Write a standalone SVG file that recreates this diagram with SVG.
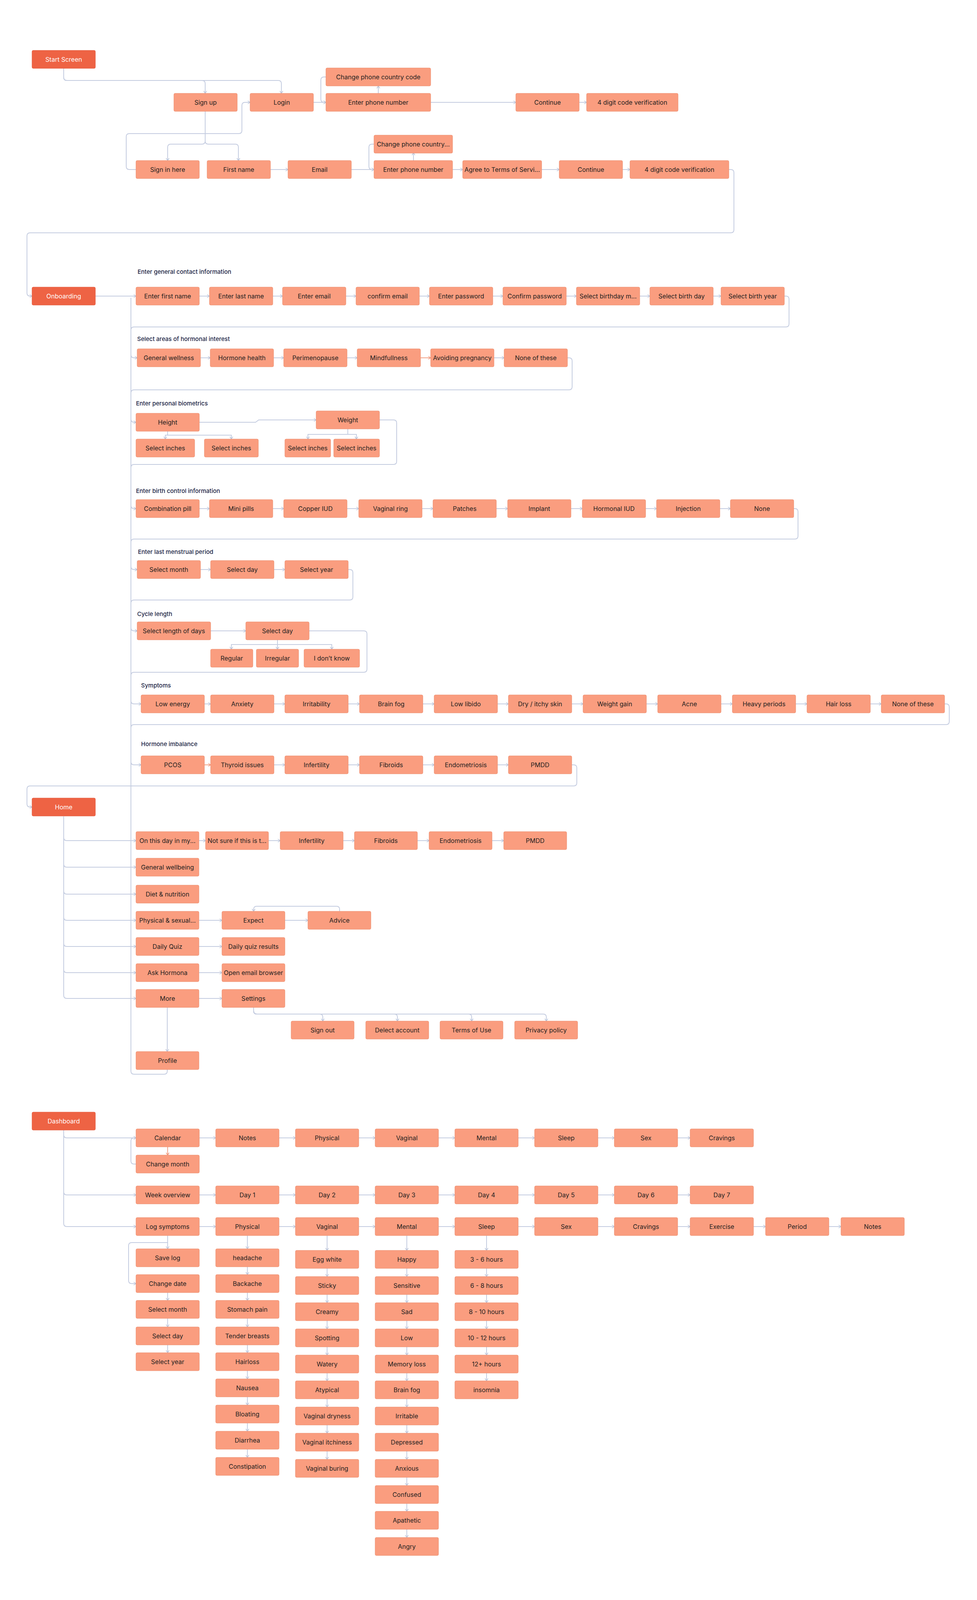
<svg xmlns="http://www.w3.org/2000/svg" width="2500" height="4111" viewBox="0 0 2500 4111">
<defs>
<style>
.n rect{fill:#FA9D7F;stroke:#EC8C6D;stroke-width:1}
.h rect{fill:#EE6344;stroke:#E4583A;stroke-width:1}
.n text,.h text{font-family:Inter,"Liberation Sans",sans-serif;font-size:16px;text-anchor:middle;dominant-baseline:central}
.n text{fill:#1E1E1E}
.h text{fill:#FFFFFF}
.lb{font-family:Inter,"Liberation Sans",sans-serif;font-size:15px;fill:#1B2444;font-weight:500;dominant-baseline:central}
#connectors path{fill:none;stroke:#C4CCE0;stroke-width:2;marker-end:url(#a)}
#connectors path.nm{marker-end:none}
#connectors path.s{stroke:#F2A186;marker-end:url(#as)}
</style>
<marker id="a" viewBox="0 0 12 12" refX="11" refY="6" markerWidth="12" markerHeight="12" markerUnits="userSpaceOnUse" orient="auto"><path d="M5,2 L11,6 L5,10" fill="none" stroke="#B8C2D8" stroke-width="1.5"/></marker>
<marker id="as" viewBox="0 0 12 12" refX="11" refY="6" markerWidth="12" markerHeight="12" markerUnits="userSpaceOnUse" orient="auto"><path d="M5,2 L11,6 L5,10" fill="none" stroke="#EE9275" stroke-width="1.5"/></marker>
</defs>
<rect width="2500" height="4111" fill="#FFFFFF"/>

<g id="connectors">
<!-- start section -->
<path d="M163,175 V198 Q163,206 171,206 H517 Q525,206 525,214 V239"/>
<path d="M163,175 V198 Q163,206 171,206 H712 Q720,206 720,214 V239"/>
<path d="M801,262 H834"/>
<path d="M968,239 V220"/>
<path d="M834,197 H829 Q821,197 821,205 V254 Q821,262 829,262 H834"/>
<path d="M1102,262 H1320"/>
<path d="M1482,262 H1501"/>
<path d="M525,284 V361 Q525,369 517,369 H437 Q429,369 429,377 V411"/>
<path d="M525,284 V361 Q525,369 533,369 H602 Q610,369 610,377 V411"/>
<path d="M348,434 H331 Q323,434 323,426 V350 Q323,342 331,342 H611 Q619,342 619,334 V270 Q619,262 627,262 H640"/>
<path d="M691,434 H737"/>
<path d="M898,434 H957"/>
<path d="M1058,411 V391"/>
<path d="M957,369 H952 Q944,369 944,377 V426 Q944,434 952,434 H957"/>
<path d="M1158,434 H1184"/>
<path d="M1386,434 H1431"/>
<path d="M1593,434 H1612"/>
<path d="M1865,434 H1870 Q1878,434 1878,442 V588 Q1878,596 1870,596 H77 Q69,596 69,604 V750 Q69,758 77,758 H82"/>
<!-- onboarding -->
<path d="M244,758 H348"/>
<path class="nm" d="M428,2738 V2742 Q428,2750 420,2750 H343 Q335,2750 335,2742 V762"/>
<path d="M510,758 H536"/>
<path d="M698,758 H723"/>
<path d="M885,758 H911"/>
<path d="M1073,758 H1099"/>
<path d="M1261,758 H1287"/>
<path d="M1449,758 H1475"/>
<path d="M1637,758 H1663"/>
<path d="M1825,758 H1845"/>
<path d="M2007,758 H2011 Q2019,758 2019,766 V829 Q2019,837 2011,837 H343 Q335,837 335,845 V908 Q335,916 343,916 H351"/>
<path d="M513,916 H538"/>
<path d="M700,916 H726"/>
<path d="M888,916 H914"/>
<path class="s" d="M1076,916 H1102"/>
<path d="M1264,916 H1290"/>
<path d="M1452,916 H1456 Q1464,916 1464,924 V990 Q1464,998 1456,998 H343 Q335,998 335,1006 V1073 Q335,1081 343,1081 H348"/>
<path d="M510,1081 H654 L662,1075 H809"/>
<path d="M429,1104 V1114 H423 V1124"/>
<path d="M429,1114 H592 V1124"/>
<path d="M890,1098 V1112 H788 V1124"/>
<path d="M890,1112 H912 V1124"/>
<path d="M971,1075 H1007 Q1015,1075 1015,1083 V1181 Q1015,1189 1007,1189 H343 Q335,1189 335,1197 V1294 Q335,1302 343,1302 H348"/>
<path d="M510,1302 H536"/>
<path d="M698,1302 H726"/>
<path d="M888,1302 H918"/>
<path d="M1080,1302 H1108"/>
<path d="M1270,1302 H1299"/>
<path d="M1461,1302 H1490"/>
<path d="M1652,1302 H1680"/>
<path d="M1842,1302 H1869"/>
<path d="M2031,1302 H2034 Q2042,1302 2042,1310 V1372 Q2042,1380 2034,1380 H343 Q335,1380 335,1388 V1450 Q335,1458 343,1458 H351"/>
<path d="M513,1458 H539"/>
<path d="M701,1458 H729"/>
<path d="M891,1458 H895 Q903,1458 903,1466 V1528 Q903,1536 895,1536 H343 Q335,1536 335,1544 V1607 Q335,1615 343,1615 H351"/>
<path d="M539,1615 H629"/>
<path d="M710,1638 V1650 H592 V1662"/>
<path d="M710,1638 V1662"/>
<path d="M710,1650 H849 V1662"/>
<path d="M791,1615 H931 Q939,1615 939,1623 V1713 Q939,1721 931,1721 H343 Q335,1721 335,1729 V1794 Q335,1802 343,1802 H361"/>
<path d="M523,1802 H539"/>
<path d="M701,1802 H729"/>
<path d="M891,1802 H920"/>
<path d="M1082,1802 H1111"/>
<path d="M1273,1802 H1301"/>
<path d="M1463,1802 H1492"/>
<path d="M1654,1802 H1683"/>
<path d="M1845,1802 H1874"/>
<path d="M2036,1802 H2065"/>
<path d="M2227,1802 H2255"/>
<path d="M2417,1802 H2421 Q2429,1802 2429,1810 V1847 Q2429,1855 2421,1855 H343 Q335,1855 335,1863 V1950 Q335,1958 343,1958 H361"/>
<path class="s" d="M523,1958 H539"/>
<path d="M701,1958 H729"/>
<path d="M891,1958 H920"/>
<path d="M1082,1958 H1111"/>
<path d="M1273,1958 H1301"/>
<path d="M1463,1958 H1468 Q1476,1958 1476,1966 V2004 Q1476,2012 1468,2012 H77 Q69,2012 69,2020 V2058 Q69,2066 77,2066 H82"/>
<!-- home -->
<path d="M163,2090 V2144 Q163,2152 171,2152 H348"/>
<path d="M163,2090 V2212 Q163,2220 171,2220 H348"/>
<path d="M163,2090 V2281 Q163,2289 171,2289 H348"/>
<path d="M163,2090 V2348 Q163,2356 171,2356 H348"/>
<path d="M163,2090 V2415 Q163,2423 171,2423 H348"/>
<path d="M163,2090 V2482 Q163,2490 171,2490 H348"/>
<path d="M163,2090 V2548 Q163,2556 171,2556 H348"/>
<path d="M509,2152 H526"/>
<path d="M687,2152 H717"/>
<path d="M878,2152 H907"/>
<path d="M1068,2152 H1098"/>
<path d="M1259,2152 H1289"/>
<path d="M509,2356 H568"/>
<path d="M729,2356 H788"/>
<path d="M869,2333 V2328 Q869,2320 861,2320 H657 Q649,2320 649,2328 V2333"/>
<path d="M509,2423 H568"/>
<path d="M509,2490 H568"/>
<path d="M509,2556 H568"/>
<path d="M649,2579 V2588 Q649,2596 657,2596 H818 Q826,2596 826,2604 V2614"/>
<path d="M649,2579 V2588 Q649,2596 657,2596 H1009 Q1017,2596 1017,2604 V2614"/>
<path d="M649,2579 V2588 Q649,2596 657,2596 H1199 Q1207,2596 1207,2604 V2614"/>
<path d="M649,2579 V2588 Q649,2596 657,2596 H1390 Q1398,2596 1398,2604 V2614"/>
<path d="M428,2579 V2692"/>
<!-- dashboard -->
<path d="M163,2892 V2905 Q163,2913 171,2913 H348"/>
<path d="M163,2892 V3051 Q163,3059 171,3059 H348"/>
<path d="M163,2892 V3132 Q163,3140 171,3140 H348"/>
<path class="s" d="M429,2936 V2957"/>
<path d="M348,2980 H343 Q335,2980 335,2972 V2921 Q335,2913 343,2913 H348"/>
<path d="M510,2913 H552"/>
<path d="M714,2913 H756"/>
<path d="M918,2913 H960"/>
<path d="M1122,2913 H1164"/>
<path d="M1326,2913 H1368"/>
<path d="M1530,2913 H1572"/>
<path d="M1734,2913 H1766"/>
<path d="M510,3059 H552"/>
<path d="M714,3059 H756"/>
<path d="M918,3059 H960"/>
<path d="M1122,3059 H1164"/>
<path d="M1326,3059 H1368"/>
<path d="M1530,3059 H1572"/>
<path d="M1734,3059 H1766"/>
<path d="M510,3140 H552"/>
<path d="M714,3140 H756"/>
<path d="M918,3140 H960"/>
<path d="M1122,3140 H1164"/>
<path d="M1326,3140 H1368"/>
<path d="M1530,3140 H1572"/>
<path d="M1734,3140 H1766"/>
<path d="M1928,3140 H1959"/>
<path d="M2121,3140 H2152"/>
<path d="M429,3163 V3197"/>
<path d="M429,3181 H337 Q329,3181 329,3189 V3278 Q329,3286 337,3286 H348"/>
<path d="M429,3309 V3329"/>
<path d="M429,3375 V3397"/>
<path d="M429,3443 V3463"/>
<path d="M633,3163 V3197"/>
<path d="M633,3243 V3263"/>
<path d="M633,3309 V3329"/>
<path d="M633,3375 V3397"/>
<path d="M633,3443 V3463"/>
<path d="M633,3509 V3530"/>
<path d="M633,3576 V3597"/>
<path d="M633,3643 V3664"/>
<path d="M633,3710 V3731"/>
<path d="M837,3163 V3201"/>
<path d="M837,3247 V3268"/>
<path d="M837,3314 V3335"/>
<path d="M837,3381 V3402"/>
<path d="M837,3448 V3469"/>
<path d="M837,3515 V3535"/>
<path d="M837,3581 V3602"/>
<path d="M837,3648 V3669"/>
<path d="M837,3715 V3736"/>
<path d="M1041,3163 V3201"/>
<path d="M1041,3247 V3268"/>
<path d="M1041,3314 V3335"/>
<path d="M1041,3381 V3402"/>
<path d="M1041,3448 V3469"/>
<path d="M1041,3515 V3535"/>
<path d="M1041,3581 V3602"/>
<path d="M1041,3648 V3669"/>
<path d="M1041,3715 V3736"/>
<path d="M1041,3782 V3803"/>
<path d="M1041,3849 V3869"/>
<path d="M1041,3915 V3936"/>
<path d="M1245,3163 V3201"/>
<path d="M1245,3247 V3268"/>
<path d="M1245,3314 V3335"/>
<path d="M1245,3381 V3402"/>
<path d="M1245,3448 V3469"/>
<path d="M1245,3515 V3535"/>
</g>

<g id="labels">
<text class="lb" x="352" y="695">Enter general contact information</text>
<text class="lb" x="351" y="867">Select areas of hormonal interest</text>
<text class="lb" x="348" y="1032">Enter personal biometrics</text>
<text class="lb" x="348" y="1256">Enter birth control information</text>
<text class="lb" x="353" y="1412">Enter last menstrual period</text>
<text class="lb" x="351" y="1571">Cycle length</text>
<text class="lb" x="361" y="1754">Symptoms</text>
<text class="lb" x="361" y="1904">Hormone imbalance</text>
</g>

<!-- Start section -->
<g id="start-screen" class="h"><rect x="82" y="129" width="162" height="46" rx="3"/><text x="163" y="152">Start Screen</text></g>
<g id="sign-up" class="n"><rect x="445" y="239" width="162" height="46" rx="3"/><text x="526" y="262">Sign up</text></g>
<g id="login" class="n"><rect x="640" y="239" width="162" height="46" rx="3"/><text x="721" y="262">Login</text></g>
<g id="change-code-1" class="n"><rect x="834" y="174" width="268" height="46" rx="3"/><text x="968" y="197">Change phone country code</text></g>
<g id="enter-phone-1" class="n"><rect x="834" y="239" width="268" height="46" rx="3"/><text x="968" y="262">Enter phone number</text></g>
<g id="continue-1" class="n"><rect x="1320" y="239" width="162" height="46" rx="3"/><text x="1401" y="262">Continue</text></g>
<g id="verify-1" class="n"><rect x="1501" y="239" width="234" height="46" rx="3"/><text x="1618" y="262">4 digit code verification</text></g>
<g id="sign-in-here" class="n"><rect x="348" y="411" width="162" height="46" rx="3"/><text x="429" y="434">Sign in here</text></g>
<g id="first-name" class="n"><rect x="530" y="411" width="162" height="46" rx="3"/><text x="611" y="434">First name</text></g>
<g id="email" class="n"><rect x="737" y="411" width="162" height="46" rx="3"/><text x="818" y="434">Email</text></g>
<g id="change-code-2" class="n"><rect x="957" y="346" width="201" height="46" rx="3"/><text x="1057.5" y="369">Change phone country...</text></g>
<g id="enter-phone-2" class="n"><rect x="957" y="411" width="201" height="46" rx="3"/><text x="1057.5" y="434">Enter phone number</text></g>
<g id="agree-terms" class="n"><rect x="1184" y="411" width="202" height="46" rx="3"/><text x="1285" y="434">Agree to Terms of Servi...</text></g>
<g id="continue-2" class="n"><rect x="1431" y="411" width="162" height="46" rx="3"/><text x="1512" y="434">Continue</text></g>
<g id="verify-2" class="n"><rect x="1612" y="411" width="253" height="46" rx="3"/><text x="1738.5" y="434">4 digit code verification</text></g>

<!-- Onboarding -->
<g id="onboarding" class="h"><rect x="82" y="735" width="162" height="46" rx="3"/><text x="163" y="758">Onboarding</text></g>
<g id="ob-first-name" class="n"><rect x="348" y="735" width="162" height="46" rx="3"/><text x="429" y="758">Enter first name</text></g>
<g id="ob-last-name" class="n"><rect x="536" y="735" width="162" height="46" rx="3"/><text x="617" y="758">Enter last name</text></g>
<g id="ob-email" class="n"><rect x="723" y="735" width="162" height="46" rx="3"/><text x="804" y="758">Enter email</text></g>
<g id="ob-confirm-email" class="n"><rect x="911" y="735" width="162" height="46" rx="3"/><text x="992" y="758">confirm email</text></g>
<g id="ob-password" class="n"><rect x="1099" y="735" width="162" height="46" rx="3"/><text x="1180" y="758">Enter password</text></g>
<g id="ob-confirm-password" class="n"><rect x="1287" y="735" width="162" height="46" rx="3"/><text x="1368" y="758">Confirm password</text></g>
<g id="ob-birth-month" class="n"><rect x="1475" y="735" width="162" height="46" rx="3"/><text x="1556" y="758">Select birthday m...</text></g>
<g id="ob-birth-day" class="n"><rect x="1663" y="735" width="162" height="46" rx="3"/><text x="1744" y="758">Select birth day</text></g>
<g id="ob-birth-year" class="n"><rect x="1845" y="735" width="162" height="46" rx="3"/><text x="1926" y="758">Select birth year</text></g>

<g id="hi-general" class="n"><rect x="351" y="893" width="162" height="46" rx="3"/><text x="432" y="916">General wellness</text></g>
<g id="hi-hormone" class="n"><rect x="538" y="893" width="162" height="46" rx="3"/><text x="619" y="916">Hormone health</text></g>
<g id="hi-peri" class="n"><rect x="726" y="893" width="162" height="46" rx="3"/><text x="807" y="916">Perimenopause</text></g>
<g id="hi-mind" class="n"><rect x="914" y="893" width="162" height="46" rx="3"/><text x="995" y="916">Mindfullness</text></g>
<g id="hi-avoid" class="n"><rect x="1102" y="893" width="162" height="46" rx="3"/><text x="1183" y="916">Avoiding pregnancy</text></g>
<g id="hi-none" class="n"><rect x="1290" y="893" width="162" height="46" rx="3"/><text x="1371" y="916">None of these</text></g>

<g id="bio-height" class="n"><rect x="348" y="1058" width="162" height="46" rx="3"/><text x="429" y="1081">Height</text></g>
<g id="bio-weight" class="n"><rect x="809" y="1052" width="162" height="46" rx="3"/><text x="890" y="1075">Weight</text></g>
<g id="bio-in-1" class="n"><rect x="348" y="1124" width="150" height="46" rx="3"/><text x="423" y="1147">Select inches</text></g>
<g id="bio-in-2" class="n"><rect x="523" y="1124" width="138" height="46" rx="3"/><text x="592" y="1147">Select inches</text></g>
<g id="bio-in-3" class="n"><rect x="729" y="1124" width="117" height="46" rx="3"/><text x="787.5" y="1147">Select inches</text></g>
<g id="bio-in-4" class="n"><rect x="854" y="1124" width="117" height="46" rx="3"/><text x="912.5" y="1147">Select inches</text></g>

<g id="bc-combo" class="n"><rect x="348" y="1279" width="162" height="46" rx="3"/><text x="429" y="1302">Combination pill</text></g>
<g id="bc-mini" class="n"><rect x="536" y="1279" width="162" height="46" rx="3"/><text x="617" y="1302">Mini pills</text></g>
<g id="bc-copper" class="n"><rect x="726" y="1279" width="162" height="46" rx="3"/><text x="807" y="1302">Copper IUD</text></g>
<g id="bc-ring" class="n"><rect x="918" y="1279" width="162" height="46" rx="3"/><text x="999" y="1302">Vaginal ring</text></g>
<g id="bc-patches" class="n"><rect x="1108" y="1279" width="162" height="46" rx="3"/><text x="1189" y="1302">Patches</text></g>
<g id="bc-implant" class="n"><rect x="1299" y="1279" width="162" height="46" rx="3"/><text x="1380" y="1302">Implant</text></g>
<g id="bc-hormonal" class="n"><rect x="1490" y="1279" width="162" height="46" rx="3"/><text x="1571" y="1302">Hormonal IUD</text></g>
<g id="bc-injection" class="n"><rect x="1680" y="1279" width="162" height="46" rx="3"/><text x="1761" y="1302">Injection</text></g>
<g id="bc-none" class="n"><rect x="1869" y="1279" width="162" height="46" rx="3"/><text x="1950" y="1302">None</text></g>

<g id="lmp-month" class="n"><rect x="351" y="1435" width="162" height="46" rx="3"/><text x="432" y="1458">Select month</text></g>
<g id="lmp-day" class="n"><rect x="539" y="1435" width="162" height="46" rx="3"/><text x="620" y="1458">Select day</text></g>
<g id="lmp-year" class="n"><rect x="729" y="1435" width="162" height="46" rx="3"/><text x="810" y="1458">Select year</text></g>

<g id="cl-length" class="n"><rect x="351" y="1592" width="188" height="46" rx="3"/><text x="445" y="1615">Select length of days</text></g>
<g id="cl-day" class="n"><rect x="629" y="1592" width="162" height="46" rx="3"/><text x="710" y="1615">Select day</text></g>
<g id="cl-regular" class="n"><rect x="539" y="1662" width="108" height="46" rx="3"/><text x="593" y="1685">Regular</text></g>
<g id="cl-irregular" class="n"><rect x="656" y="1662" width="108" height="46" rx="3"/><text x="710" y="1685">Irregular</text></g>
<g id="cl-dont-know" class="n"><rect x="778" y="1662" width="142" height="46" rx="3"/><text x="849" y="1685">I don’t know</text></g>

<g id="sy-low-energy" class="n"><rect x="361" y="1779" width="162" height="46" rx="3"/><text x="442" y="1802">Low energy</text></g>
<g id="sy-anxiety" class="n"><rect x="539" y="1779" width="162" height="46" rx="3"/><text x="620" y="1802">Anxiety</text></g>
<g id="sy-irritability" class="n"><rect x="729" y="1779" width="162" height="46" rx="3"/><text x="810" y="1802">Irritability</text></g>
<g id="sy-brain-fog" class="n"><rect x="920" y="1779" width="162" height="46" rx="3"/><text x="1001" y="1802">Brain fog</text></g>
<g id="sy-low-libido" class="n"><rect x="1111" y="1779" width="162" height="46" rx="3"/><text x="1192" y="1802">Low libido</text></g>
<g id="sy-dry-skin" class="n"><rect x="1301" y="1779" width="162" height="46" rx="3"/><text x="1382" y="1802">Dry / itchy skin</text></g>
<g id="sy-weight-gain" class="n"><rect x="1492" y="1779" width="162" height="46" rx="3"/><text x="1573" y="1802">Weight gain</text></g>
<g id="sy-acne" class="n"><rect x="1683" y="1779" width="162" height="46" rx="3"/><text x="1764" y="1802">Acne</text></g>
<g id="sy-heavy" class="n"><rect x="1874" y="1779" width="162" height="46" rx="3"/><text x="1955" y="1802">Heavy periods</text></g>
<g id="sy-hair-loss" class="n"><rect x="2065" y="1779" width="162" height="46" rx="3"/><text x="2146" y="1802">Hair loss</text></g>
<g id="sy-none" class="n"><rect x="2255" y="1779" width="162" height="46" rx="3"/><text x="2336" y="1802">None of these</text></g>

<g id="hm-pcos" class="n"><rect x="361" y="1935" width="162" height="46" rx="3"/><text x="442" y="1958">PCOS</text></g>
<g id="hm-thyroid" class="n"><rect x="539" y="1935" width="162" height="46" rx="3"/><text x="620" y="1958">Thyroid issues</text></g>
<g id="hm-infertility" class="n"><rect x="729" y="1935" width="162" height="46" rx="3"/><text x="810" y="1958">Infertility</text></g>
<g id="hm-fibroids" class="n"><rect x="920" y="1935" width="162" height="46" rx="3"/><text x="1001" y="1958">Fibroids</text></g>
<g id="hm-endo" class="n"><rect x="1111" y="1935" width="162" height="46" rx="3"/><text x="1192" y="1958">Endometriosis</text></g>
<g id="hm-pmdd" class="n"><rect x="1301" y="1935" width="162" height="46" rx="3"/><text x="1382" y="1958">PMDD</text></g>

<!-- Home -->
<g id="home" class="h"><rect x="82" y="2043" width="162" height="46" rx="3"/><text x="163" y="2066">Home</text></g>
<g id="h-on-this-day" class="n"><rect x="348" y="2129" width="161" height="46" rx="3"/><text x="428.5" y="2152">On this day in my...</text></g>
<g id="h-not-sure" class="n"><rect x="526" y="2129" width="161" height="46" rx="3"/><text x="606.5" y="2152">Not sure if this is t...</text></g>
<g id="h-infertility" class="n"><rect x="717" y="2129" width="161" height="46" rx="3"/><text x="797.5" y="2152">Infertility</text></g>
<g id="h-fibroids" class="n"><rect x="907" y="2129" width="161" height="46" rx="3"/><text x="987.5" y="2152">Fibroids</text></g>
<g id="h-endo" class="n"><rect x="1098" y="2129" width="161" height="46" rx="3"/><text x="1178.5" y="2152">Endometriosis</text></g>
<g id="h-pmdd" class="n"><rect x="1289" y="2129" width="161" height="46" rx="3"/><text x="1369.5" y="2152">PMDD</text></g>
<g id="h-wellbeing" class="n"><rect x="348" y="2197" width="161" height="46" rx="3"/><text x="428.5" y="2220">General wellbeing</text></g>
<g id="h-diet" class="n"><rect x="348" y="2266" width="161" height="46" rx="3"/><text x="428.5" y="2289">Diet &amp; nutrition</text></g>
<g id="h-physical" class="n"><rect x="348" y="2333" width="161" height="46" rx="3"/><text x="428.5" y="2356">Physical &amp; sexual...</text></g>
<g id="h-expect" class="n"><rect x="568" y="2333" width="161" height="46" rx="3"/><text x="648.5" y="2356">Expect</text></g>
<g id="h-advice" class="n"><rect x="788" y="2333" width="161" height="46" rx="3"/><text x="868.5" y="2356">Advice</text></g>
<g id="h-quiz" class="n"><rect x="348" y="2400" width="161" height="46" rx="3"/><text x="428.5" y="2423">Daily Quiz</text></g>
<g id="h-quiz-results" class="n"><rect x="568" y="2400" width="161" height="46" rx="3"/><text x="648.5" y="2423">Daily quiz results</text></g>
<g id="h-ask" class="n"><rect x="348" y="2467" width="161" height="46" rx="3"/><text x="428.5" y="2490">Ask Hormona</text></g>
<g id="h-email-browser" class="n"><rect x="568" y="2467" width="161" height="46" rx="3"/><text x="648.5" y="2490">Open email browser</text></g>
<g id="h-more" class="n"><rect x="348" y="2533" width="161" height="46" rx="3"/><text x="428.5" y="2556">More</text></g>
<g id="h-settings" class="n"><rect x="568" y="2533" width="161" height="46" rx="3"/><text x="648.5" y="2556">Settings</text></g>
<g id="h-sign-out" class="n"><rect x="745" y="2614" width="161" height="46" rx="3"/><text x="825.5" y="2637">Sign out</text></g>
<g id="h-delect" class="n"><rect x="936" y="2614" width="161" height="46" rx="3"/><text x="1016.5" y="2637">Delect account</text></g>
<g id="h-terms" class="n"><rect x="1126" y="2614" width="161" height="46" rx="3"/><text x="1206.5" y="2637">Terms of Use</text></g>
<g id="h-privacy" class="n"><rect x="1317" y="2614" width="161" height="46" rx="3"/><text x="1397.5" y="2637">Privacy policy</text></g>
<g id="h-profile" class="n"><rect x="348" y="2692" width="161" height="46" rx="3"/><text x="428.5" y="2715">Profile</text></g>

<!-- Dashboard -->
<g id="dashboard" class="h"><rect x="82" y="2847" width="162" height="46" rx="3"/><text x="163" y="2870">Dashboard</text></g>
<g id="d-calendar" class="n"><rect x="348" y="2890" width="162" height="46" rx="3"/><text x="429" y="2913">Calendar</text></g>
<g id="d-notes" class="n"><rect x="552" y="2890" width="162" height="46" rx="3"/><text x="633" y="2913">Notes</text></g>
<g id="d-physical" class="n"><rect x="756" y="2890" width="162" height="46" rx="3"/><text x="837" y="2913">Physical</text></g>
<g id="d-vaginal" class="n"><rect x="960" y="2890" width="162" height="46" rx="3"/><text x="1041" y="2913">Vaginal</text></g>
<g id="d-mental" class="n"><rect x="1164" y="2890" width="162" height="46" rx="3"/><text x="1245" y="2913">Mental</text></g>
<g id="d-sleep" class="n"><rect x="1368" y="2890" width="162" height="46" rx="3"/><text x="1449" y="2913">Sleep</text></g>
<g id="d-sex" class="n"><rect x="1572" y="2890" width="162" height="46" rx="3"/><text x="1653" y="2913">Sex</text></g>
<g id="d-cravings" class="n"><rect x="1766" y="2890" width="162" height="46" rx="3"/><text x="1847" y="2913">Cravings</text></g>
<g id="d-change-month" class="n"><rect x="348" y="2957" width="162" height="46" rx="3"/><text x="429" y="2980">Change month</text></g>

<g id="w-overview" class="n"><rect x="348" y="3036" width="162" height="46" rx="3"/><text x="429" y="3059">Week overview</text></g>
<g id="w-day1" class="n"><rect x="552" y="3036" width="162" height="46" rx="3"/><text x="633" y="3059">Day 1</text></g>
<g id="w-day2" class="n"><rect x="756" y="3036" width="162" height="46" rx="3"/><text x="837" y="3059">Day 2</text></g>
<g id="w-day3" class="n"><rect x="960" y="3036" width="162" height="46" rx="3"/><text x="1041" y="3059">Day 3</text></g>
<g id="w-day4" class="n"><rect x="1164" y="3036" width="162" height="46" rx="3"/><text x="1245" y="3059">Day 4</text></g>
<g id="w-day5" class="n"><rect x="1368" y="3036" width="162" height="46" rx="3"/><text x="1449" y="3059">Day 5</text></g>
<g id="w-day6" class="n"><rect x="1572" y="3036" width="162" height="46" rx="3"/><text x="1653" y="3059">Day 6</text></g>
<g id="w-day7" class="n"><rect x="1766" y="3036" width="162" height="46" rx="3"/><text x="1847" y="3059">Day 7</text></g>

<g id="l-log" class="n"><rect x="348" y="3117" width="162" height="46" rx="3"/><text x="429" y="3140">Log symptoms</text></g>
<g id="l-physical" class="n"><rect x="552" y="3117" width="162" height="46" rx="3"/><text x="633" y="3140">Physical</text></g>
<g id="l-vaginal" class="n"><rect x="756" y="3117" width="162" height="46" rx="3"/><text x="837" y="3140">Vaginal</text></g>
<g id="l-mental" class="n"><rect x="960" y="3117" width="162" height="46" rx="3"/><text x="1041" y="3140">Mental</text></g>
<g id="l-sleep" class="n"><rect x="1164" y="3117" width="162" height="46" rx="3"/><text x="1245" y="3140">Sleep</text></g>
<g id="l-sex" class="n"><rect x="1368" y="3117" width="162" height="46" rx="3"/><text x="1449" y="3140">Sex</text></g>
<g id="l-cravings" class="n"><rect x="1572" y="3117" width="162" height="46" rx="3"/><text x="1653" y="3140">Cravings</text></g>
<g id="l-exercise" class="n"><rect x="1766" y="3117" width="162" height="46" rx="3"/><text x="1847" y="3140">Exercise</text></g>
<g id="l-period" class="n"><rect x="1959" y="3117" width="162" height="46" rx="3"/><text x="2040" y="3140">Period</text></g>
<g id="l-notes" class="n"><rect x="2152" y="3117" width="162" height="46" rx="3"/><text x="2233" y="3140">Notes</text></g>

<g id="l-save" class="n"><rect x="348" y="3197" width="162" height="46" rx="3"/><text x="429" y="3220">Save log</text></g>
<g id="l-change-date" class="n"><rect x="348" y="3263" width="162" height="46" rx="3"/><text x="429" y="3286">Change date</text></g>
<g id="l-month" class="n"><rect x="348" y="3329" width="162" height="46" rx="3"/><text x="429" y="3352">Select month</text></g>
<g id="l-day" class="n"><rect x="348" y="3397" width="162" height="46" rx="3"/><text x="429" y="3420">Select day</text></g>
<g id="l-year" class="n"><rect x="348" y="3463" width="162" height="46" rx="3"/><text x="429" y="3486">Select year</text></g>

<g id="p-headache" class="n"><rect x="552" y="3197" width="162" height="46" rx="3"/><text x="633" y="3220">headache</text></g>
<g id="p-backache" class="n"><rect x="552" y="3263" width="162" height="46" rx="3"/><text x="633" y="3286">Backache</text></g>
<g id="p-stomach" class="n"><rect x="552" y="3329" width="162" height="46" rx="3"/><text x="633" y="3352">Stomach pain</text></g>
<g id="p-breasts" class="n"><rect x="552" y="3397" width="162" height="46" rx="3"/><text x="633" y="3420">Tender breasts</text></g>
<g id="p-hairloss" class="n"><rect x="552" y="3463" width="162" height="46" rx="3"/><text x="633" y="3486">Hairloss</text></g>
<g id="p-nausea" class="n"><rect x="552" y="3530" width="162" height="46" rx="3"/><text x="633" y="3553">Nausea</text></g>
<g id="p-bloating" class="n"><rect x="552" y="3597" width="162" height="46" rx="3"/><text x="633" y="3620">Bloating</text></g>
<g id="p-diarrhea" class="n"><rect x="552" y="3664" width="162" height="46" rx="3"/><text x="633" y="3687">Diarrhea</text></g>
<g id="p-constipation" class="n"><rect x="552" y="3731" width="162" height="46" rx="3"/><text x="633" y="3754">Constipation</text></g>

<g id="v-egg" class="n"><rect x="756" y="3201" width="162" height="46" rx="3"/><text x="837" y="3224">Egg white</text></g>
<g id="v-sticky" class="n"><rect x="756" y="3268" width="162" height="46" rx="3"/><text x="837" y="3291">Sticky</text></g>
<g id="v-creamy" class="n"><rect x="756" y="3335" width="162" height="46" rx="3"/><text x="837" y="3358">Creamy</text></g>
<g id="v-spotting" class="n"><rect x="756" y="3402" width="162" height="46" rx="3"/><text x="837" y="3425">Spotting</text></g>
<g id="v-watery" class="n"><rect x="756" y="3469" width="162" height="46" rx="3"/><text x="837" y="3492">Watery</text></g>
<g id="v-atypical" class="n"><rect x="756" y="3535" width="162" height="46" rx="3"/><text x="837" y="3558">Atypical</text></g>
<g id="v-dryness" class="n"><rect x="756" y="3602" width="162" height="46" rx="3"/><text x="837" y="3625">Vaginal dryness</text></g>
<g id="v-itchiness" class="n"><rect x="756" y="3669" width="162" height="46" rx="3"/><text x="837" y="3692">Vaginal itchiness</text></g>
<g id="v-buring" class="n"><rect x="756" y="3736" width="162" height="46" rx="3"/><text x="837" y="3759">Vaginal buring</text></g>

<g id="m-happy" class="n"><rect x="960" y="3201" width="162" height="46" rx="3"/><text x="1041" y="3224">Happy</text></g>
<g id="m-sensitive" class="n"><rect x="960" y="3268" width="162" height="46" rx="3"/><text x="1041" y="3291">Sensitive</text></g>
<g id="m-sad" class="n"><rect x="960" y="3335" width="162" height="46" rx="3"/><text x="1041" y="3358">Sad</text></g>
<g id="m-low" class="n"><rect x="960" y="3402" width="162" height="46" rx="3"/><text x="1041" y="3425">Low</text></g>
<g id="m-memory" class="n"><rect x="960" y="3469" width="162" height="46" rx="3"/><text x="1041" y="3492">Memory loss</text></g>
<g id="m-brain-fog" class="n"><rect x="960" y="3535" width="162" height="46" rx="3"/><text x="1041" y="3558">Brain fog</text></g>
<g id="m-irritable" class="n"><rect x="960" y="3602" width="162" height="46" rx="3"/><text x="1041" y="3625">Irritable</text></g>
<g id="m-depressed" class="n"><rect x="960" y="3669" width="162" height="46" rx="3"/><text x="1041" y="3692">Depressed</text></g>
<g id="m-anxious" class="n"><rect x="960" y="3736" width="162" height="46" rx="3"/><text x="1041" y="3759">Anxious</text></g>
<g id="m-confused" class="n"><rect x="960" y="3803" width="162" height="46" rx="3"/><text x="1041" y="3826">Confused</text></g>
<g id="m-apathetic" class="n"><rect x="960" y="3869" width="162" height="46" rx="3"/><text x="1041" y="3892">Apathetic</text></g>
<g id="m-angry" class="n"><rect x="960" y="3936" width="162" height="46" rx="3"/><text x="1041" y="3959">Angry</text></g>

<g id="s-3-6" class="n"><rect x="1164" y="3201" width="162" height="46" rx="3"/><text x="1245" y="3224">3 - 6 hours</text></g>
<g id="s-6-8" class="n"><rect x="1164" y="3268" width="162" height="46" rx="3"/><text x="1245" y="3291">6 - 8 hours</text></g>
<g id="s-8-10" class="n"><rect x="1164" y="3335" width="162" height="46" rx="3"/><text x="1245" y="3358">8 - 10 hours</text></g>
<g id="s-10-12" class="n"><rect x="1164" y="3402" width="162" height="46" rx="3"/><text x="1245" y="3425">10 - 12 hours</text></g>
<g id="s-12" class="n"><rect x="1164" y="3469" width="162" height="46" rx="3"/><text x="1245" y="3492">12+ hours</text></g>
<g id="s-insomnia" class="n"><rect x="1164" y="3535" width="162" height="46" rx="3"/><text x="1245" y="3558">insomnia</text></g>
</svg>
